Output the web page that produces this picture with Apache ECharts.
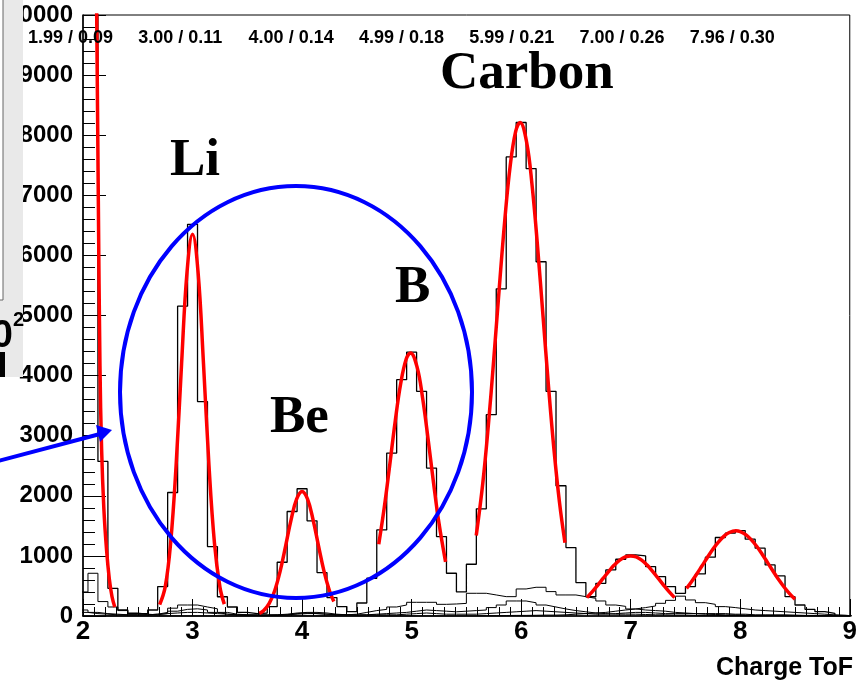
<!DOCTYPE html>
<html><head><meta charset="utf-8">
<script src="https://cdn.jsdelivr.net/npm/echarts/dist/echarts.min.js"></script>
<style>html,body{margin:0;padding:0;background:#fff}#c{width:860px;height:681px}</style>
</head><body><div id="c"></div>
<script>
// ---- data ----
const xMin = 2, xMax = 9;
const firstBinCenter = 2, binWidth = 1 / 11;   // 78 bins centred on 2, 2.09, ... 9
const yMax = 10000;
const mainCounts = [12000,12000,2572,460,100,40,40,100,489,2055,
 5155,6517,3567,1155,320,150,60,40,50,155,
 894,1739,2117,1583,722,306,156,72,216,628,
 1433,2711,3933,4389,3739,2461,1322,711,400,861,
 1783,3350,5444,7639,8211,7444,5894,3739,2167,1139,
 556,320,544,767,944,1017,1000,822,656,489,
 378,489,700,978,1306,1378,1422,1278,1128,850,
 667,322,183,111,72,44,10,0];
const sub1Counts = [400,711,240,150,90,50,30,20,40,80,
 110,120,100,60,30,20,10,10,10,10,
 20,40,50,40,30,20,20,30,60,90,
 110,150,183,228,228,228,194,200,210,378,
 378,350,322,322,450,478,478,406,350,350,
 322,294,250,183,160,117,100,90,80,60,
 50,40,30,25,20,20,15,10,10,8,
 6,5,4,3,2,2,1,0];
const sub2Counts = [0,0,0,0,0,0,0,0,0,0,
 0,0,0,0,0,0,0,0,0,0,
 0,0,0,0,0,0,0,0,0,0,
 0,0,0,0,0,0,0,0,0,0,
 5,5,8,10,10,12,15,15,20,30,
 40,50,60,80,100,117,140,167,211,260,
 330,267,222,194,156,140,120,100,90,80,
 70,60,50,40,30,20,10,5];
const sub3Counts = [100,60,40,30,20,20,20,30,60,130,
 183,183,150,120,60,30,20,15,15,20,
 30,50,60,60,50,30,20,15,20,30,
 40,50,60,80,100,90,80,70,80,90,
 100,140,183,250,250,220,183,150,117,90,
 70,50,40,30,30,30,25,20,20,15,
 15,10,10,10,8,8,6,5,5,4,
 3,2,2,1,1,0,0,0];
const sub4Counts = [60,40,30,20,20,20,20,30,40,50,
 60,60,50,40,30,20,20,20,20,20,
 20,30,40,40,30,20,20,20,20,20,
 20,20,30,40,50,40,30,30,30,30,
 40,50,60,70,80,90,80,70,60,50,
 40,30,30,40,50,60,60,50,40,40,
 40,40,40,40,40,30,30,20,20,20,
 20,15,10,10,5,2,0,0];

// fitted curves, values
const heFitX = [2.11,2.125,2.14,2.155,2.17,2.19,2.215,2.24,2.265,2.29];
const heFitY = [12500,10000,6900,4150,2770,1800,1100,620,320,150];
const liFitX = [2.70,2.75,2.80,2.85,2.90,2.95,3.00,3.05,3.10,3.15,3.20,3.25,3.29];
const liFitY = [190,480,1215,2505,4200,5730,6350,5730,4200,2505,1215,480,197];
const beFitX = [3.61,3.65,3.70,3.75,3.80,3.85,3.90,3.95,4.00,4.05,4.10,4.15,4.20,4.25,4.29];
const beFitY = [43,91,209,421,747,1167,1605,1944,2072,1944,1605,1167,747,421,243];
const bFitX = [4.70,4.75,4.80,4.85,4.90,4.95,4.99,5.05,5.10,5.15,5.20,5.25,5.31];
const bFitY = [1195,1800,2508,3237,3864,4271,4378,4141,3632,2950,2216,1542,901];
const cFitX = [5.59,5.65,5.70,5.75,5.80,5.85,5.90,5.95,5.99,6.05,6.10,6.15,6.20,6.25,6.30,6.35,6.40];
const cFitY = [1339,2214,3164,4273,5453,6575,7491,8064,8211,7883,7160,6142,4980,3816,2762,1890,1220];
const nFitX = [6.60,6.65,6.70,6.75,6.80,6.85,6.90,6.95,7.00,7.05,7.10,7.15,7.20,7.25,7.30,7.35,7.40];
const nFitY = [306,404,514,630,744,847,929,982,1000,982,929,847,744,630,514,404,306];
const oFitX = [7.51,7.55,7.60,7.65,7.70,7.75,7.80,7.85,7.90,7.96,8.00,8.05,8.10,8.15,8.20,8.25,8.30,8.35,8.40,8.45,8.50];
const oFitY = [460,557,690,831,973,1109,1229,1325,1389,1417,1404,1355,1271,1160,1029,888,745,609,483,373,280];

const fitLabels = ['1.99 / 0.09','3.00 / 0.11','4.00 / 0.14','4.99 / 0.18','5.99 / 0.21','7.00 / 0.26','7.96 / 0.30'];
const peakNames = ['Li','Be','B','Carbon'];
const axisTitle = 'Charge ToF';

// ---- build ----
function stepPoints(counts){
  const x0 = firstBinCenter - binWidth / 2;
  const pts = [[x0, 0]];
  counts.forEach((c, k) => {
    pts.push([x0 + k * binWidth, c], [x0 + (k + 1) * binWidth, c]);
  });
  pts.push([x0 + counts.length * binWidth, 0]);
  return pts;
}
function zip(xs, ys){ return xs.map((x, i) => [x, ys[i]]); }

const histSeries = [sub4Counts, sub3Counts, sub2Counts, sub1Counts, mainCounts].map((c, i) => ({
  type: 'line', data: stepPoints(c), symbol: 'none', clip: true, z: 2,
  lineStyle: { color: '#000', width: i === 4 ? 1.3 : 1 }, silent: true
}));
const fitSeries = [[heFitX,heFitY],[liFitX,liFitY],[beFitX,beFitY],[bFitX,bFitY],[cFitX,cFitY],[nFitX,nFitY],[oFitX,oFitY]].map(([xs, ys]) => ({
  type: 'line', data: zip(xs, ys), symbol: 'none', smooth: 0.4, clip: true, z: 3,
  lineStyle: { color: '#ff0000', width: 3.5 }, silent: true
}));

const SANS = '"Liberation Sans", Arial, Helvetica, sans-serif';
const SERIF = '"Liberation Serif", "Times New Roman", serif';
const graphics = [];
fitLabels.forEach((t, i) => graphics.push({
  type: 'text', x: 28 + 110.3 * i, y: 38, z: 20,
  style: { text: t, font: 'bold 18px ' + SANS, fill: '#000', textAlign: 'left', textVerticalAlign: 'middle' }
}));
const namePos = [[170,161],[270,418],[395,288],[440,74]];
peakNames.forEach((t, i) => graphics.push({
  type: 'text', x: namePos[i][0], y: namePos[i][1], z: 20,
  style: { text: t, font: 'bold 53px ' + SERIF, fill: '#000', textAlign: 'left', textVerticalAlign: 'middle' }
}));
graphics.push({ type: 'text', x: 853, y: 668, z: 20,
  style: { text: axisTitle, font: 'bold 25px ' + SANS, fill: '#000', textAlign: 'right', textVerticalAlign: 'middle' } });
graphics.push({ type: 'ellipse', z: 15, shape: { cx: 296, cy: 392, rx: 176, ry: 206 },
  style: { fill: null, stroke: '#0000ff', lineWidth: 4 } });
graphics.push({ type: 'line', z: 15, shape: { x1: -2, y1: 461, x2: 100, y2: 434 },
  style: { stroke: '#0000ff', lineWidth: 4 } });
graphics.push({ type: 'polygon', z: 15, shape: { points: [[112, 430], [96, 425], [100, 442]] },
  style: { fill: '#0000ff' } });
graphics.push({ type: 'rect', z: 30, shape: { x: 0, y: 0, width: 23, height: 377 }, style: { fill: '#e9e9e9' } });
graphics.push({ type: 'rect', z: 31, shape: { x: -2, y: -2, width: 5, height: 302 }, style: { fill: '#fff', stroke: '#666', lineWidth: 1 } });
graphics.push({ type: 'text', z: 32, x: 13, y: 337, style: { text: '10', font: 'bold 38px ' + SANS, fill: '#000', textAlign: 'right', textVerticalAlign: 'middle' } });
graphics.push({ type: 'text', z: 32, x: 13, y: 320, style: { text: '2', font: 'bold 20px ' + SANS, fill: '#000', textAlign: 'left', textVerticalAlign: 'middle' } });
graphics.push({ type: 'rect', z: 32, shape: { x: 0, y: 352, width: 5, height: 25 }, style: { fill: '#000' } });

const chart = echarts.init(document.getElementById('c'), null, { renderer: 'canvas', width: 860, height: 681 });
chart.setOption({
  animation: false,
  backgroundColor: '#fff',
  grid: { left: 83, right: 7, top: 15, bottom: 65, show: true, borderColor: '#000', borderWidth: 1, backgroundColor: 'transparent' },
  xAxis: {
    type: 'value', min: xMin, max: xMax, interval: 1,
    axisLine: { show: true, onZero: false, lineStyle: { color: '#000', width: 1.5 } },
    axisTick: { show: true, inside: true, length: 17, lineStyle: { color: '#000', width: 1 } },
    minorTick: { show: true, splitNumber: 10, length: 9, lineStyle: { color: '#000', width: 1 } },
    splitLine: { show: false },
    axisLabel: { color: '#000', fontFamily: SANS, fontWeight: 'bold', fontSize: 26, margin: 3, formatter: v => String(v) }
  },
  yAxis: {
    type: 'value', min: 0, max: yMax, interval: 1000,
    axisLine: { show: true, lineStyle: { color: '#000', width: 1.5 } },
    axisTick: { show: true, inside: true, length: 23, lineStyle: { color: '#000', width: 1 } },
    minorTick: { show: true, splitNumber: 5, length: 12, lineStyle: { color: '#000', width: 1 } },
    splitLine: { show: false },
    axisLabel: { color: '#000', fontFamily: SANS, fontWeight: 'bold', fontSize: 24, margin: 10, formatter: v => String(v) }
  },
  series: histSeries.concat(fitSeries),
  graphic: graphics
});
</script></body></html>
